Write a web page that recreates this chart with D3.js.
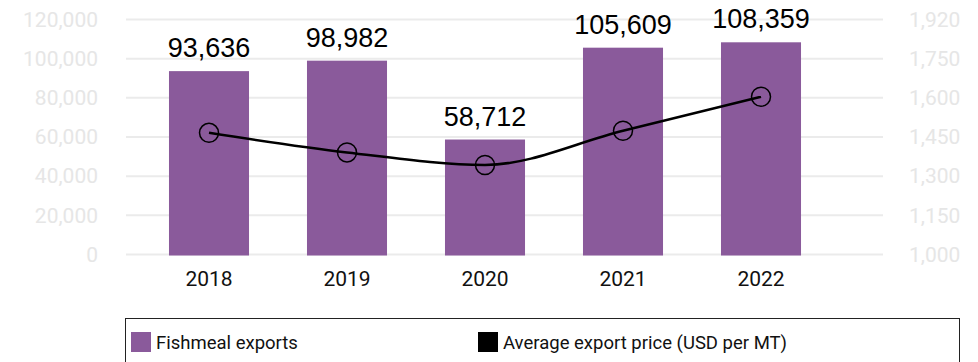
<!DOCTYPE html>
<html>
<head>
<meta charset="utf-8">
<script src="https://cdn.jsdelivr.net/npm/d3@7"></script>
<style>
  html, body { margin: 0; padding: 0; background: #fff; }
  svg { display: block; }
</style>
</head>
<body>
<svg id="chart" width="978" height="362"></svg>
<script>
// Fishmeal export volumes (MT) and average export price (USD per MT), 2018–2022
const years = ["2018", "2019", "2020", "2021", "2022"];
const exportsMT = [93636, 98982, 58712, 105609, 108359];
const avgPrice = [1466, 1391, 1343, 1474, 1604];

const leftTicks = [0, 20000, 40000, 60000, 80000, 100000, 120000];
const rightTicks = [1000, 1150, 1300, 1450, 1600, 1750, 1900];
const rightTickLabels = ["1,000", "1,150", "1,300", "1,450", "1,600", "1,750", "1,920"];

const legendItems = [
  { label: "Fishmeal exports", color: "#8a5a9b" },
  { label: "Average export price (USD per MT)", color: "#000000" }
];

const svg = d3.select("#chart");
const fmt = d3.format(",");

const x = d3.scaleBand().domain(years).range([140, 830]).paddingInner(0.42).paddingOuter(0.21);
const yL = d3.scaleLinear().domain([0, 120000]).range([254.5, 19.5]);
const yR = d3.scaleLinear().domain([1000, 1900]).range([254.5, 19.5]);

// horizontal gridlines
svg.append("g").selectAll("line").data(leftTicks).join("line")
  .attr("x1", 126).attr("x2", 883)
  .attr("y1", d => yL(d)).attr("y2", d => yL(d))
  .attr("stroke", "#ebebeb").attr("stroke-width", 2);

// left axis labels
const axisL = d3.axisLeft(yL).tickValues(leftTicks).tickFormat(fmt).tickSize(0).tickPadding(0);
const gL = svg.append("g").attr("transform", "translate(98,0)").call(axisL);
gL.select(".domain").remove();
gL.selectAll("text").attr("fill", "#e6e6e6")
  .style("font-family", "Roboto, sans-serif").style("font-size", "21px");

// right axis labels
const axisR = d3.axisRight(yR).tickValues(rightTicks)
  .tickFormat((d, i) => rightTickLabels[i]).tickSize(0).tickPadding(0);
const gR = svg.append("g").attr("transform", "translate(909,0)").call(axisR);
gR.select(".domain").remove();
gR.selectAll("text").attr("fill", "#e6e6e6")
  .style("font-family", "Roboto, sans-serif").style("font-size", "21px");

// category axis
const axisB = d3.axisBottom(x).tickSize(0).tickPadding(0);
const gB = svg.append("g").attr("transform", "translate(0,271)").call(axisB);
gB.select(".domain").remove();
gB.selectAll("text").attr("fill", "#111").attr("dy", "0.71em")
  .style("font-family", "Roboto, sans-serif").style("font-size", "21px");

// bars
svg.append("g").selectAll("rect").data(years).join("rect")
  .attr("x", d => x(d))
  .attr("width", x.bandwidth())
  .attr("y", (d, i) => yL(exportsMT[i]))
  .attr("height", (d, i) => yL(0) - yL(exportsMT[i]) + 1)
  .attr("fill", legendItems[0].color);

// bar value labels
svg.append("g").selectAll("text").data(years).join("text")
  .attr("x", d => x(d) + x.bandwidth() / 2)
  .attr("y", (d, i) => yL(exportsMT[i]) - 14)
  .attr("text-anchor", "middle")
  .attr("fill", "#000")
  .style("font-family", "'Liberation Sans', Arial, sans-serif")
  .style("font-size", "27px")
  .text((d, i) => fmt(exportsMT[i]));

// price line
const pts = years.map((d, i) => [x(d) + x.bandwidth() / 2, yR(avgPrice[i])]);
svg.append("path")
  .attr("d", d3.line().curve(d3.curveMonotoneX)(pts))
  .attr("fill", "none").attr("stroke", "#000").attr("stroke-width", 2.5);

svg.append("g").selectAll("circle").data(pts).join("circle")
  .attr("cx", d => d[0]).attr("cy", d => d[1]).attr("r", 9.5)
  .attr("fill", "none").attr("stroke", "#000").attr("stroke-width", 1.5);

// legend
const lg = svg.append("g");
lg.append("rect").attr("x", 125.5).attr("y", 318.5).attr("width", 834).attr("height", 60)
  .attr("fill", "none").attr("stroke", "#222").attr("stroke-width", 1);
const lx = [131, 478];
legendItems.forEach((it, i) => {
  lg.append("rect").attr("x", lx[i]).attr("y", 332).attr("width", 20).attr("height", 20)
    .attr("fill", it.color);
  lg.append("text").attr("x", lx[i] + 25).attr("y", 349)
    .attr("fill", "#111")
    .style("font-family", "Roboto, sans-serif").style("font-size", "18.5px")
    .text(it.label);
});
</script>
</body>
</html>
